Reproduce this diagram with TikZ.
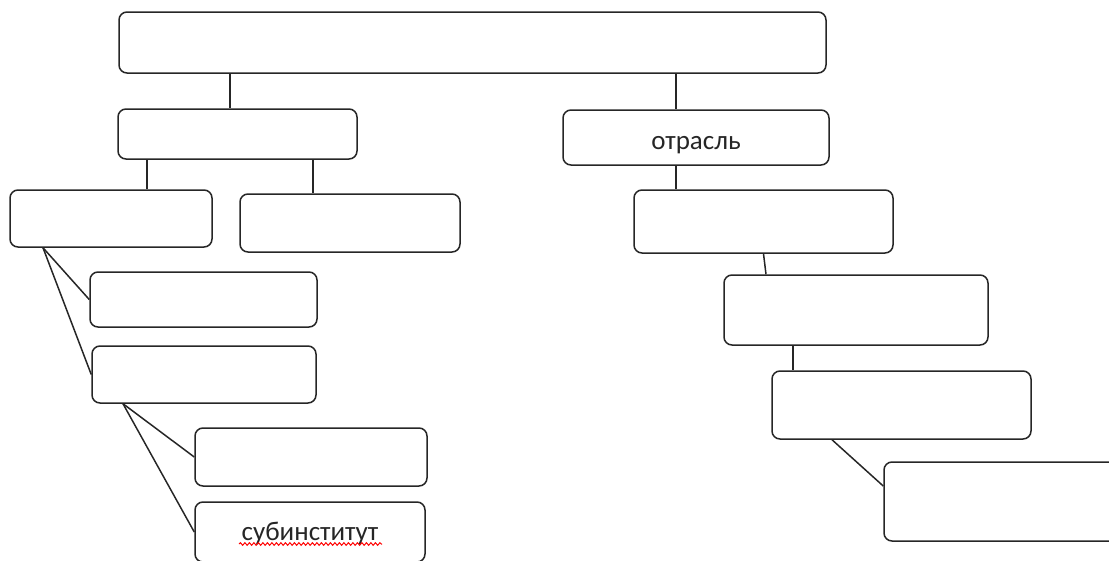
\documentclass[tikz,border=0pt]{standalone}
\usepackage{fontspec}
\setmainfont{Carlito}
\usetikzlibrary{decorations.pathmorphing}

\begin{document}
\begin{tikzpicture}[x=1pt,y=-1pt,
        box/.style={draw=black!85,line width=1.5pt,rounded corners=8pt,inner sep=0pt,font=\fontsize{27}{32}\selectfont,text=black!85},
        link/.style={draw=black!85,line width=1.5pt}]
        \clip (0,0) rectangle (1109,560);
        % Boxes
        \node[box,minimum width=707,minimum height=61] (root) at (472.5,42.5) {};
        \node[box,minimum width=239,minimum height=50] (left) at (237.5,134) {};
        \node[box,minimum width=266,minimum height=55,text height=23pt,text depth=0pt] (branch) at (696,137.5) {отрасль};
        \node[box,minimum width=202,minimum height=57] (leftA) at (111,218.5) {};
        \node[box,minimum width=220,minimum height=58] (leftB) at (350,223) {};
        \node[box,minimum width=259,minimum height=63] (rightA) at (763.5,221.5) {};
        \node[box,minimum width=227,minimum height=55] (subA) at (203.5,299.5) {};
        \node[box,minimum width=224,minimum height=57] (subB) at (204,374.5) {};
        \node[box,minimum width=232,minimum height=58] (subC) at (311,457) {};
        \node[box,minimum width=230,minimum height=60,text height=16pt,text depth=0pt] (subD) at (310,532) {субинститут};
        \node[box,minimum width=264,minimum height=70] (rightB) at (856,310) {};
        \node[box,minimum width=259,minimum height=68] (rightC) at (901.5,405) {};
        \node[box,minimum width=246,minimum height=79] (rightD) at (1007,501.5) {};
        % Links
        \draw[link] (root.south -| 230,0) -- (left.north -| 230,0);
        \draw[link] (root.south -| 676,0) -- (branch.north -| 676,0);
        \draw[link] (left.south -| 147,0) -- (leftA.north -| 147,0);
        \draw[link] (left.south -| 313,0) -- (leftB.north -| 313,0);
        \draw[link] (branch.south -| 676,0) -- (rightA.north -| 676,0);
        \draw[link] (leftA.south -| 43,0) -- (subA.west);
        \draw[link] (leftA.south -| 43,0) -- (subB.west);
        \draw[link] (subB.south -| 123,0) -- (subC.west);
        \draw[link] (subB.south -| 123,0) -- (subD.west);
        \draw[link] (rightA.south) -- (rightB.north -| 766,0);
        \draw[link] (rightB.south -| 793,0) -- (rightC.north -| 793,0);
        \draw[link] (rightC.south -| 832,0) -- (rightD.west |- 0,486);
        % Spelling mark
        \draw[red,line width=1pt,decorate,decoration={snake,amplitude=1.3pt,segment length=4.5pt}] (239,544) -- (382,544);
\end{tikzpicture}
\end{document}
